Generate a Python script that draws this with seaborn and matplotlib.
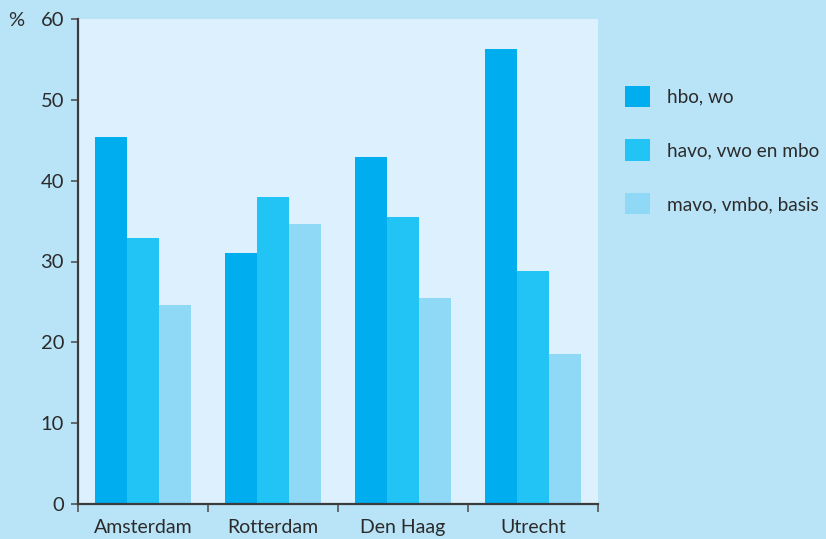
import matplotlib
matplotlib.use("Agg")
import matplotlib.pyplot as plt
from matplotlib.patches import Patch
from matplotlib.ticker import FixedLocator
import seaborn as sns
import pandas as pd

cities = ["Amsterdam", "Rotterdam", "Den Haag", "Utrecht"]
levels = ["hbo, wo", "havo, vwo en mbo", "mavo, vmbo, basis"]
hbo_wo = [45.4, 31.0, 42.9, 56.3]
havo_vwo_mbo = [32.9, 38.0, 35.5, 28.8]
mavo_vmbo_basis = [24.6, 34.6, 25.5, 18.6]
yticks = [0, 10, 20, 30, 40, 50, 60]

colors = ["#00aeef", "#22c4f5", "#8fd8f6"]
fig_bg = "#b9e4f8"
ax_bg = "#dcf1fd"
ink = "#2b2b2b"

df = pd.DataFrame({
    "stad": cities * 3,
    "niveau": [levels[0]] * 4 + [levels[1]] * 4 + [levels[2]] * 4,
    "pct": hbo_wo + havo_vwo_mbo + mavo_vmbo_basis,
})

sns.set_theme(style="white")
plt.rcParams["font.family"] = ["Lato", "DejaVu Sans"]

fig = plt.figure(figsize=(8.26, 5.39), dpi=100, facecolor=fig_bg)
ax = fig.add_axes([78 / 826, 35 / 539, 520 / 826, 485 / 539])
ax.set_facecolor(ax_bg)

sns.barplot(data=df, x="stad", y="pct", hue="niveau", order=cities,
            hue_order=levels, palette=colors, width=0.74, gap=0,
            saturation=1, linewidth=0, edgecolor="none", ax=ax, legend=False)

ax.set_xlim(-0.5, 3.5)
ax.set_ylim(0, 60)
ax.set_yticks(yticks)
ax.set_yticklabels([str(t) for t in yticks])
ax.set_xlabel("")
ax.set_ylabel("")

for side in ["top", "right"]:
    ax.spines[side].set_visible(False)
for side in ["left", "bottom"]:
    ax.spines[side].set_color("#3c3c3c")
    ax.spines[side].set_linewidth(1.6)

ax.tick_params(axis="y", which="major", length=5, width=1.2, color="#555555",
               labelsize=14.5, labelcolor=ink, pad=5, left=True)
ax.tick_params(axis="x", which="major", length=0, labelsize=14,
               labelcolor=ink, pad=11)
ax.xaxis.set_minor_locator(FixedLocator([-0.5, 0.5, 1.5, 2.5, 3.5]))
ax.tick_params(axis="x", which="minor", length=6, width=1.2,
               color="#555555", bottom=True)

fig.text(8 / 826, 1 - 20 / 539, "%", fontsize=14.5, color=ink,
         ha="left", va="center")

handles = [Patch(facecolor=c, edgecolor="none") for c in colors]
fig.legend(handles, levels, loc="upper left",
           bbox_to_anchor=(617 / 826, 1 - 78 / 539), frameon=False,
           fontsize=13.7, labelcolor=ink, handlelength=1.33,
           handleheight=1.33, handletextpad=0.9, labelspacing=1.72,
           borderaxespad=0)

fig.savefig("out.png", dpi=100, facecolor=fig_bg)
